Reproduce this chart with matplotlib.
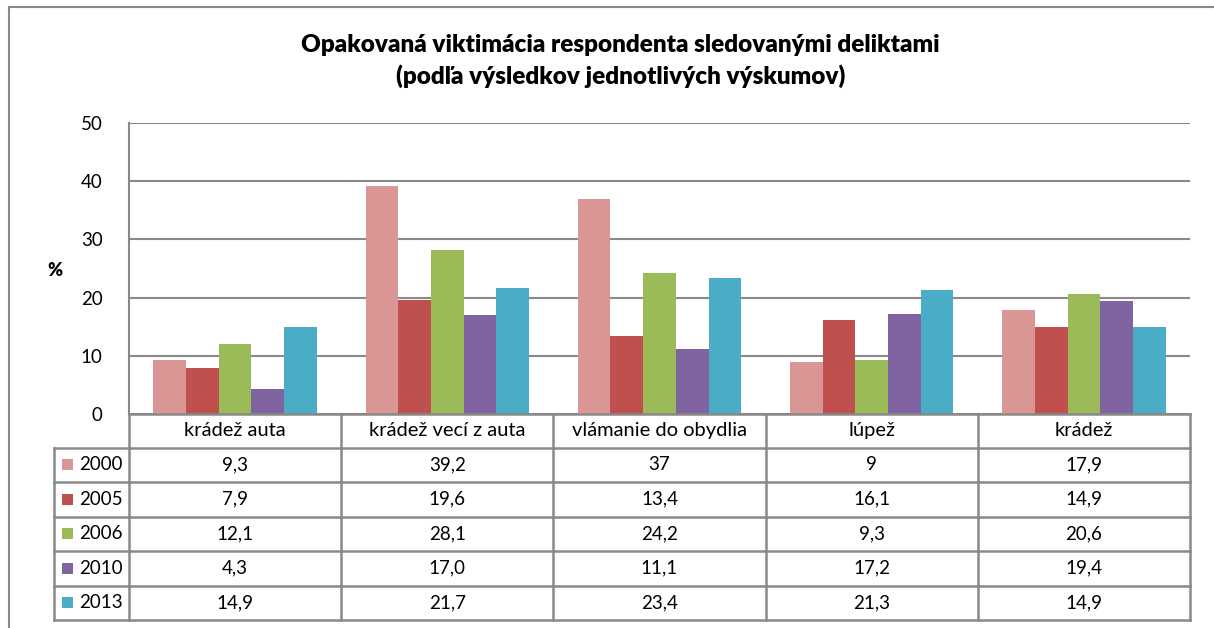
import matplotlib
matplotlib.use("Agg")
import matplotlib.pyplot as plt
from matplotlib.transforms import blended_transform_factory
from matplotlib.patches import Rectangle
from matplotlib.lines import Line2D

plt.rcParams['font.family'] = ['Lato', 'DejaVu Sans']

categories = ["krádež auta", "krádež vecí z auta", "vlámanie do obydlia", "lúpež", "krádež"]
years = ["2000", "2005", "2006", "2010", "2013"]
v2000 = [9.3, 39.2, 37, 9, 17.9]
v2005 = [7.9, 19.6, 13.4, 16.1, 14.9]
v2006 = [12.1, 28.1, 24.2, 9.3, 20.6]
v2010 = [4.3, 17.0, 11.1, 17.2, 19.4]
v2013 = [14.9, 21.7, 23.4, 21.3, 14.9]
series = [v2000, v2005, v2006, v2010, v2013]
colors = ["#D99694", "#C0504D", "#9BBB59", "#8064A2", "#4BACC6"]
yticks = [0, 10, 20, 30, 40, 50]

W, H = 1214, 628
fig = plt.figure(figsize=(W / 100, H / 100), dpi=100)

def fx(px):
    return px / W

def fy(py):
    return 1 - py / H

GRAY = "#898989"

# outer chart frame
fig.patches.append(Rectangle((fx(9), fy(640)), fx(1240) - fx(9), fy(7) - fy(640),
                             transform=fig.transFigure, fill=False, edgecolor=GRAY,
                             linewidth=1.5, clip_on=False))

ax = fig.add_axes([fx(129), fy(414), fx(1190) - fx(129), fy(123) - fy(414)])
n = len(categories)
bw = 0.154
for i, (vals, c) in enumerate(zip(series, colors)):
    xs = [k + (i - 2) * bw for k in range(n)]
    ax.bar(xs, vals, width=bw, color=c, zorder=3)

ax.set_xlim(-0.5, n - 0.5)
ax.set_ylim(0, 50)
ax.set_yticks(yticks)
ax.set_yticklabels([str(t) for t in yticks], fontsize=13.5)
ax.set_xticks([])
ax.tick_params(axis='y', length=0, pad=19, colors="#000000")
ax.grid(axis='y', color=GRAY, linewidth=1.5, zorder=0)
for s in ['top', 'right', 'bottom']:
    ax.spines[s].set_visible(False)
ax.spines['left'].set_color(GRAY)
ax.spines['left'].set_linewidth(1.5)

fig.text(fx(55), fy(270), "%", fontsize=13, fontweight='heavy', ha='center', va='center')

fig.text(0.511, fy(45), "Opakovaná viktimácia respondenta sledovanými deliktami",
         fontsize=17.5, fontweight='heavy', ha='center', va='center')
fig.text(0.511, fy(76), "(podľa výsledkov jednotlivých výskumov)",
         fontsize=17.5, fontweight='heavy', ha='center', va='center')

# data table
bt = blended_transform_factory(ax.transData, fig.transFigure)
row_edges = [414, 447.5, 482, 516.5, 551, 585.5, 620]
lw = 1.8
for j, ry in enumerate(row_edges):
    fig.add_artist(Line2D([-0.5, n - 0.5], [fy(ry), fy(ry)], transform=bt,
                          color=GRAY, linewidth=lw, zorder=5))
    if j >= 1:
        fig.add_artist(Line2D([fx(54), fx(129)], [fy(ry), fy(ry)], transform=fig.transFigure,
                              color=GRAY, linewidth=lw, zorder=5))
for k in range(n + 1):
    fig.add_artist(Line2D([k - 0.5, k - 0.5], [fy(414), fy(620)], transform=bt,
                          color=GRAY, linewidth=lw, zorder=5))
fig.add_artist(Line2D([fx(54), fx(54)], [fy(447.5), fy(620)], transform=fig.transFigure,
                      color=GRAY, linewidth=lw, zorder=5))

for k, cat in enumerate(categories):
    fig.text(k, fy((414 + 447.5) / 2), cat, transform=bt, ha='center', va='center', fontsize=14.5)

def fmt(v):
    if isinstance(v, int):
        return str(v)
    return f"{v:.1f}".replace('.', ',')

for i, (yr, vals, c) in enumerate(zip(years, series, colors)):
    cy = (row_edges[i + 1] + row_edges[i + 2]) / 2
    fig.patches.append(Rectangle((fx(62), fy(cy + 5.5)), fx(11), fy(cy - 5.5) - fy(cy + 5.5),
                                 transform=fig.transFigure, facecolor=c, edgecolor='none'))
    fig.text(fx(79), fy(cy), yr, ha='left', va='center', fontsize=13.5)
    for k, v in enumerate(vals):
        fig.text(k, fy(cy), fmt(v), transform=bt, ha='center', va='center', fontsize=13.5)

fig.savefig("out.png", dpi=100, facecolor='white')
